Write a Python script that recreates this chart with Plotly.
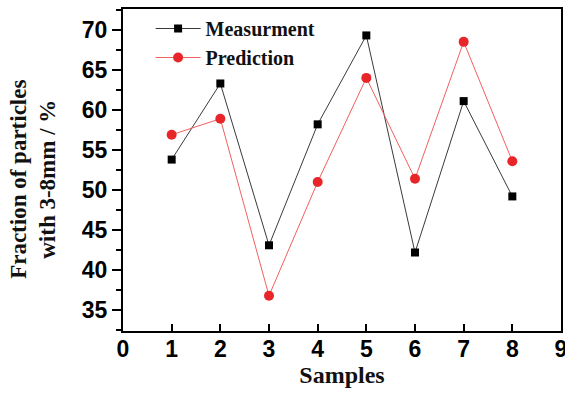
import plotly.graph_objects as go

samples = [1, 2, 3, 4, 5, 6, 7, 8]
measurement = [53.8, 63.3, 43.1, 58.2, 69.3, 42.2, 61.1, 49.2]
prediction = [56.9, 58.9, 36.8, 51.0, 64.0, 51.4, 68.5, 53.6]
x_ticks = [0, 1, 2, 3, 4, 5, 6, 7, 8, 9]
y_ticks = [35, 40, 45, 50, 55, 60, 65, 70]

serif = "Liberation Serif, Times New Roman, serif"
sans = "Liberation Sans, Arial, sans-serif"

fig = go.Figure()
fig.add_trace(go.Scatter(
    x=samples, y=measurement, name="<b>Measurment</b>", mode="lines+markers",
    line=dict(color="#3a3a3a", width=1),
    marker=dict(symbol="square", size=8, color="black"),
))
fig.add_trace(go.Scatter(
    x=samples, y=prediction, name="<b>Prediction</b>", mode="lines+markers",
    line=dict(color="#f06060", width=1),
    marker=dict(symbol="circle", size=10, color="#e8262a"),
))

fig.update_layout(
    width=565, height=394,
    margin=dict(l=123, r=4, t=9, b=63),
    paper_bgcolor="white", plot_bgcolor="white",
    showlegend=True,
    legend=dict(
        x=0.063, y=1.0, xanchor="left", yanchor="top",
        bgcolor="rgba(0,0,0,0)", borderwidth=0,
        font=dict(family=serif, size=20, color="#111"),
        itemwidth=45, tracegroupgap=0,
    ),
    xaxis=dict(
        range=[0, 9], tickvals=x_ticks, ticks="inside", ticklen=7, tickwidth=1.5,
        tickcolor="black", showline=True, linecolor="black", linewidth=2,
        mirror=True, showgrid=False, zeroline=False, automargin=False,
        ticklabeloverflow="allow", ticklabelstandoff=-4,
        tickfont=dict(family=sans, size=23, color="black", weight="bold"),
        title=dict(text="<b>Samples</b>", font=dict(family=serif, size=24, color="#111"), standoff=4),
    ),
    yaxis=dict(
        range=[32.4, 72.6], tickvals=y_ticks, ticks="outside", ticklen=9, tickwidth=1.5,
        tickcolor="black", showline=True, linecolor="black", linewidth=2,
        mirror=True, showgrid=False, zeroline=False, automargin=False,
        tickfont=dict(family=sans, size=23, color="black", weight="bold"),
        minor=dict(dtick=2.5, ticks="outside", ticklen=5, tickwidth=1.5, tickcolor="black", showgrid=False),
    ),
    annotations=[dict(
        text="<b>Fraction of particles<br>with 3-8mm / %</b>",
        xref="paper", yref="paper", x=-0.205, y=0.47,
        xanchor="center", yanchor="middle", textangle=-90, showarrow=False,
        font=dict(family=serif, size=23, color="#111"),
    )],
)

fig.write_html("out.html", config={"displayModeBar": False},
               post_script="document.body.style.margin='0';")
